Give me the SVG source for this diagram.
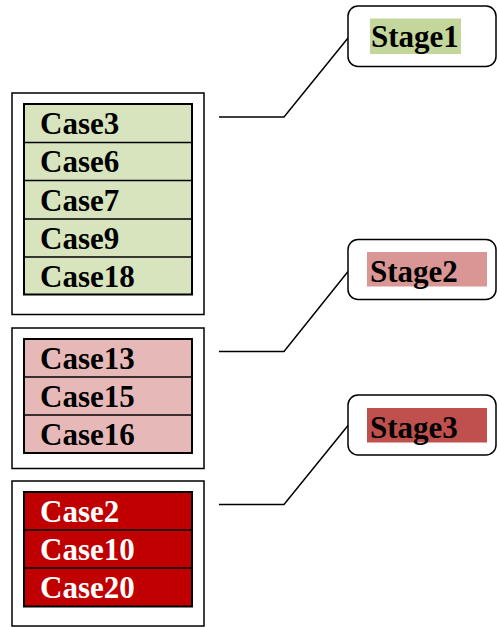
<svg xmlns="http://www.w3.org/2000/svg" width="497" height="627" viewBox="0 0 497 627">
<style>
.outer{fill:#fff;stroke:#000;stroke-width:1.5}
.tbl{stroke:#000;stroke-width:2}
.div{stroke:#000;stroke-width:1.5}
.t{font-family:"Liberation Serif","Times New Roman",serif;font-weight:bold;font-size:31px;fill:#000}
.w{fill:#fff}
.stage{fill:#fff;stroke:#000;stroke-width:1.5}
.conn{fill:none;stroke:#000;stroke-width:1.5}
</style>
<rect width="497" height="627" fill="#fff"/>
<g id="group1">
<rect class="outer" x="12" y="93" width="192" height="221.5"/>
<rect class="tbl" x="24" y="104" width="168" height="190.5" fill="#D7E4BD"/>
<line class="div" x1="24" y1="142.5" x2="192" y2="142.5"/>
<line class="div" x1="24" y1="180.5" x2="192" y2="180.5"/>
<line class="div" x1="24" y1="219" x2="192" y2="219"/>
<line class="div" x1="24" y1="257" x2="192" y2="257"/>
<text class="t" x="40" y="133.5">Case3</text>
<text class="t" x="40" y="172">Case6</text>
<text class="t" x="40" y="210.5">Case7</text>
<text class="t" x="40" y="248.5">Case9</text>
<text class="t" x="40" y="286.5">Case18</text>
</g>
<g id="group2">
<rect class="outer" x="12" y="328" width="192" height="140.5"/>
<rect class="tbl" x="24" y="339" width="168" height="114" fill="#E6B9B8"/>
<line class="div" x1="24" y1="377" x2="192" y2="377"/>
<line class="div" x1="24" y1="415" x2="192" y2="415"/>
<text class="t" x="40" y="368.5">Case13</text>
<text class="t" x="40" y="406.5">Case15</text>
<text class="t" x="40" y="444.5">Case16</text>
</g>
<g id="group3">
<rect class="outer" x="12" y="481" width="192" height="145"/>
<rect class="tbl" x="24" y="492" width="168" height="114.5" fill="#C00000"/>
<line class="div" x1="24" y1="530" x2="192" y2="530"/>
<line class="div" x1="24" y1="568" x2="192" y2="568"/>
<text class="t w" x="40" y="521.5">Case2</text>
<text class="t w" x="40" y="559.5">Case10</text>
<text class="t w" x="40" y="597.5">Case20</text>
</g>
<g id="connectors">
<polyline class="conn" points="219,117 284,117 348,38"/>
<polyline class="conn" points="219,351.5 284,351.5 348,271.5"/>
<polyline class="conn" points="219,504.5 284,504.5 348,425.5"/>
</g>
<g id="stage1">
<rect class="stage" x="348" y="6" width="148" height="60.5" rx="10"/>
<rect x="370" y="18.5" width="91" height="35.5" fill="#C3D69B"/>
<text class="t" x="371" y="47">Stage1</text>
</g>
<g id="stage2">
<rect class="stage" x="348" y="239.5" width="148" height="60" rx="10"/>
<rect x="367" y="252" width="120" height="34.5" fill="#D99694"/>
<text class="t" x="370" y="282">Stage2</text>
</g>
<g id="stage3">
<rect class="stage" x="348" y="395" width="148" height="60" rx="10"/>
<rect x="367" y="408" width="120" height="34.5" fill="#C0504D"/>
<text class="t" x="370" y="437.5">Stage3</text>
</g>
</svg>
